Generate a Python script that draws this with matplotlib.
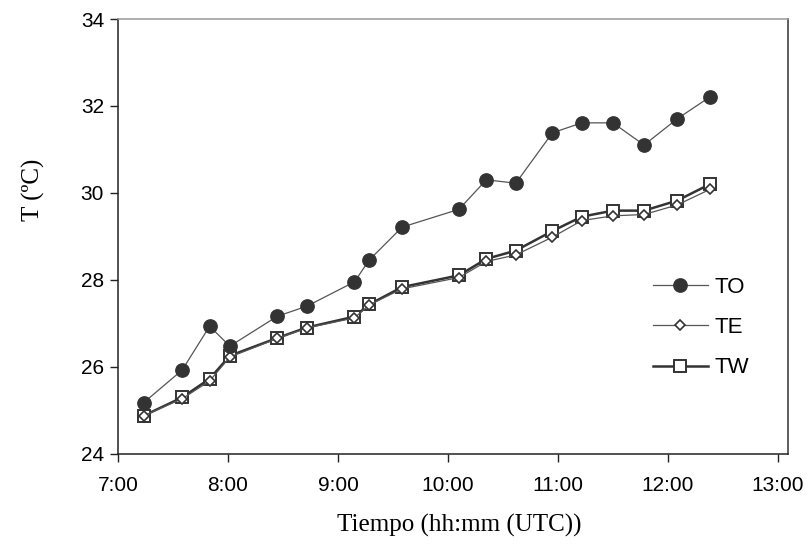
import numpy as np
import matplotlib
matplotlib.use("Agg")
import matplotlib.pyplot as plt
from matplotlib.ticker import FuncFormatter

# ---------------------------------------------------------------
# Data
# ---------------------------------------------------------------
times = ["7:14", "7:35", "7:50", "8:01", "8:27", "8:43", "9:09", "9:17", "9:35",
         "10:06", "10:21", "10:37", "10:57", "11:13", "11:30", "11:47", "12:05", "12:23"]

TO = [25.17, 25.92, 26.93, 26.47, 27.16, 27.39, 27.95, 28.45, 29.21,
      29.62, 30.30, 30.22, 31.38, 31.61, 31.61, 31.10, 31.70, 32.21]
TE = [24.87, 25.26, 25.67, 26.22, 26.65, 26.89, 27.12, 27.42, 27.79,
      28.05, 28.42, 28.57, 28.98, 29.36, 29.47, 29.50, 29.72, 30.08]
TW = [24.87, 25.29, 25.72, 26.25, 26.66, 26.90, 27.15, 27.43, 27.83,
      28.10, 28.48, 28.67, 29.12, 29.45, 29.59, 29.59, 29.82, 30.20]

x_ticks = [7, 8, 9, 10, 11, 12, 13]
y_ticks = [24, 26, 28, 30, 32, 34]


def to_hours(s):
    h, m = s.split(":")
    return int(h) + int(m) / 60.0


def hhmm(v, pos=None):
    h = int(v)
    m = int(round((v - h) * 60))
    return f"{h}:{m:02d}"


x = np.array([to_hours(s) for s in times])

plt.rcParams["font.family"] = ["Liberation Sans", "DejaVu Sans"]

fig = plt.figure(figsize=(8.12, 5.59), dpi=100)
ax = fig.add_axes([0.1453, 0.1887, 0.8251, 0.7773])

dark = "#333333"
l_to, = ax.plot(x, TO, color="#555555", lw=0.9, marker="o", ms=9.6,
                mfc=dark, mec=dark, label="TO", zorder=3)
l_tw, = ax.plot(x, TW, color=dark, lw=1.8, marker="s", ms=8.5,
                mfc="white", mec=dark, mew=1.4, label="TW", zorder=2)
l_te, = ax.plot(x, TE, color="#555555", lw=0.9, marker="D", ms=5.5,
                mfc="white", mec=dark, mew=1.2, label="TE", zorder=2.5)

ax.set_xlim(7, 13 + 5.5 / 60)
ax.set_ylim(24, 34)
ax.set_xticks(x_ticks)
ax.set_yticks(y_ticks)
ax.xaxis.set_major_formatter(FuncFormatter(hhmm))
ax.tick_params(direction="out", length=6, width=1, labelsize=15, color="#222222")
ax.tick_params(axis="x", pad=10)
ax.tick_params(axis="y", pad=4)

ax.spines["left"].set_color("#222222")
ax.spines["bottom"].set_color("#222222")
ax.spines["top"].set_color("#999999")
ax.spines["right"].set_color(dark)
for s in ax.spines.values():
    s.set_linewidth(1.1)

serif = ["Liberation Serif", "DejaVu Serif"]
ax.set_xlabel("Tiempo (hh:mm (UTC))", fontsize=18, family=serif)
ax.set_ylabel("T (ºC)", fontsize=18, family=serif)
ax.xaxis.set_label_coords(0.51, -0.138)
ax.yaxis.set_label_coords(-0.109, 0.606)

ax.legend(handles=[l_to, l_te, l_tw], loc="center left",
          bbox_to_anchor=(0.798, 0.29), frameon=False, fontsize=16,
          borderpad=0, borderaxespad=0, handlelength=2.5,
          handletextpad=0.3, labelspacing=0.87)

fig.savefig("out.png", dpi=100)
